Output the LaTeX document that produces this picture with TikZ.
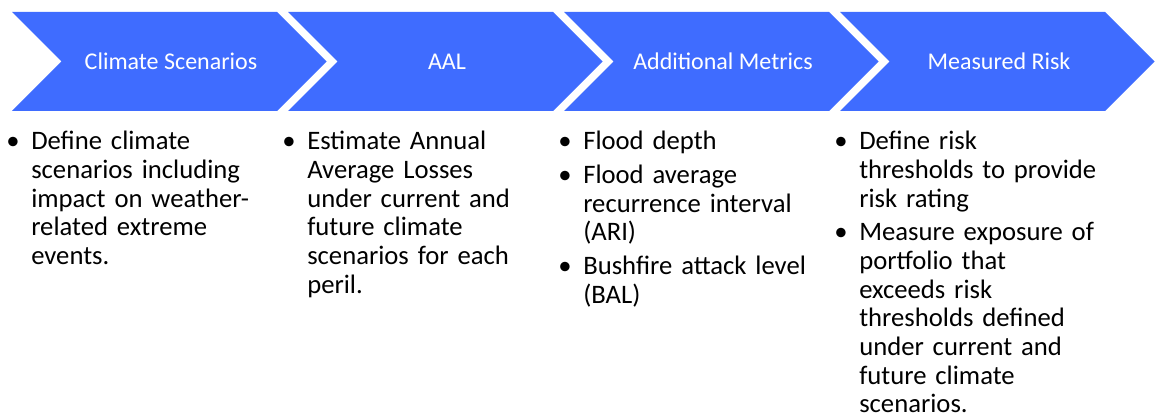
\documentclass[tikz,border=0pt]{standalone}
\usepackage{fontspec}
\setmainfont{Carlito}
\usepackage{enumitem}
\definecolor{stepblue}{RGB}{63,108,255}

\tikzset{
  chevron/.style={fill=stepblue},
  steplabel/.style={text=white,anchor=base,font=\fontsize{18}{21.6}\selectfont},
  stepnotes/.style={anchor=north west,inner sep=0pt,text width=200pt,align=left,
    font=\fontsize{20}{21.5}\selectfont}
}
% bullet list under each step
\newcommand{\notelist}[1]{%
  \begin{itemize}[nosep,itemsep=3.75pt,leftmargin=18.75pt,labelwidth=18.75pt,
    labelsep=0pt,labelindent=0pt,align=left,label=\textbullet]
  #1
  \end{itemize}}

\begin{document}
\begin{tikzpicture}[x=0.75pt,y=-0.75pt]
    \useasboundingbox (0,0) rectangle (1155,417);

    % step 1
    \fill[chevron] (12,12) -- (277,12) -- (326.5,61.5) -- (277,111) -- (12,111) -- (61.5,61.5) -- cycle;
    \node[steplabel] (climate) at (171,69.5) {Climate Scenarios};
    \node[stepnotes] (climate-notes) at (6,121) {\notelist{
        \item Define climate\\ scenarios including\\ impact on weather-\\ related extreme\\ events.}};

    % step 2
    \fill[chevron] (288,12) -- (553,12) -- (602.5,61.5) -- (553,111) -- (288,111) -- (337.5,61.5) -- cycle;
    \node[steplabel] (aal) at (447,69.5) {AAL};
    \node[stepnotes] (aal-notes) at (282,121) {\notelist{
        \item Estimate Annual\\ Average Losses\\ under current and\\ future climate\\ scenarios for each\\ peril.}};

    % step 3
    \fill[chevron] (564,12) -- (829,12) -- (878.5,61.5) -- (829,111) -- (564,111) -- (613.5,61.5) -- cycle;
    \node[steplabel] (metrics) at (723,69.5) {Additional Metrics};
    \node[stepnotes] (metrics-notes) at (558,121) {\notelist{
        \item Flood depth
        \item Flood average\\ recurrence interval\\ (ARI)
        \item Bushfire attack level\\ (BAL)}};

    % step 4
    \fill[chevron] (840,12) -- (1105,12) -- (1154.5,61.5) -- (1105,111) -- (840,111) -- (889.5,61.5) -- cycle;
    \node[steplabel] (risk) at (999,69.5) {Measured Risk};
    \node[stepnotes] (risk-notes) at (834,121) {\notelist{
        \item Define risk\\ thresholds to provide\\ risk rating
        \item Measure exposure of\\ portfolio that\\ exceeds risk\\ thresholds defined\\ under current and\\ future climate\\ scenarios.}};
\end{tikzpicture}
\end{document}
